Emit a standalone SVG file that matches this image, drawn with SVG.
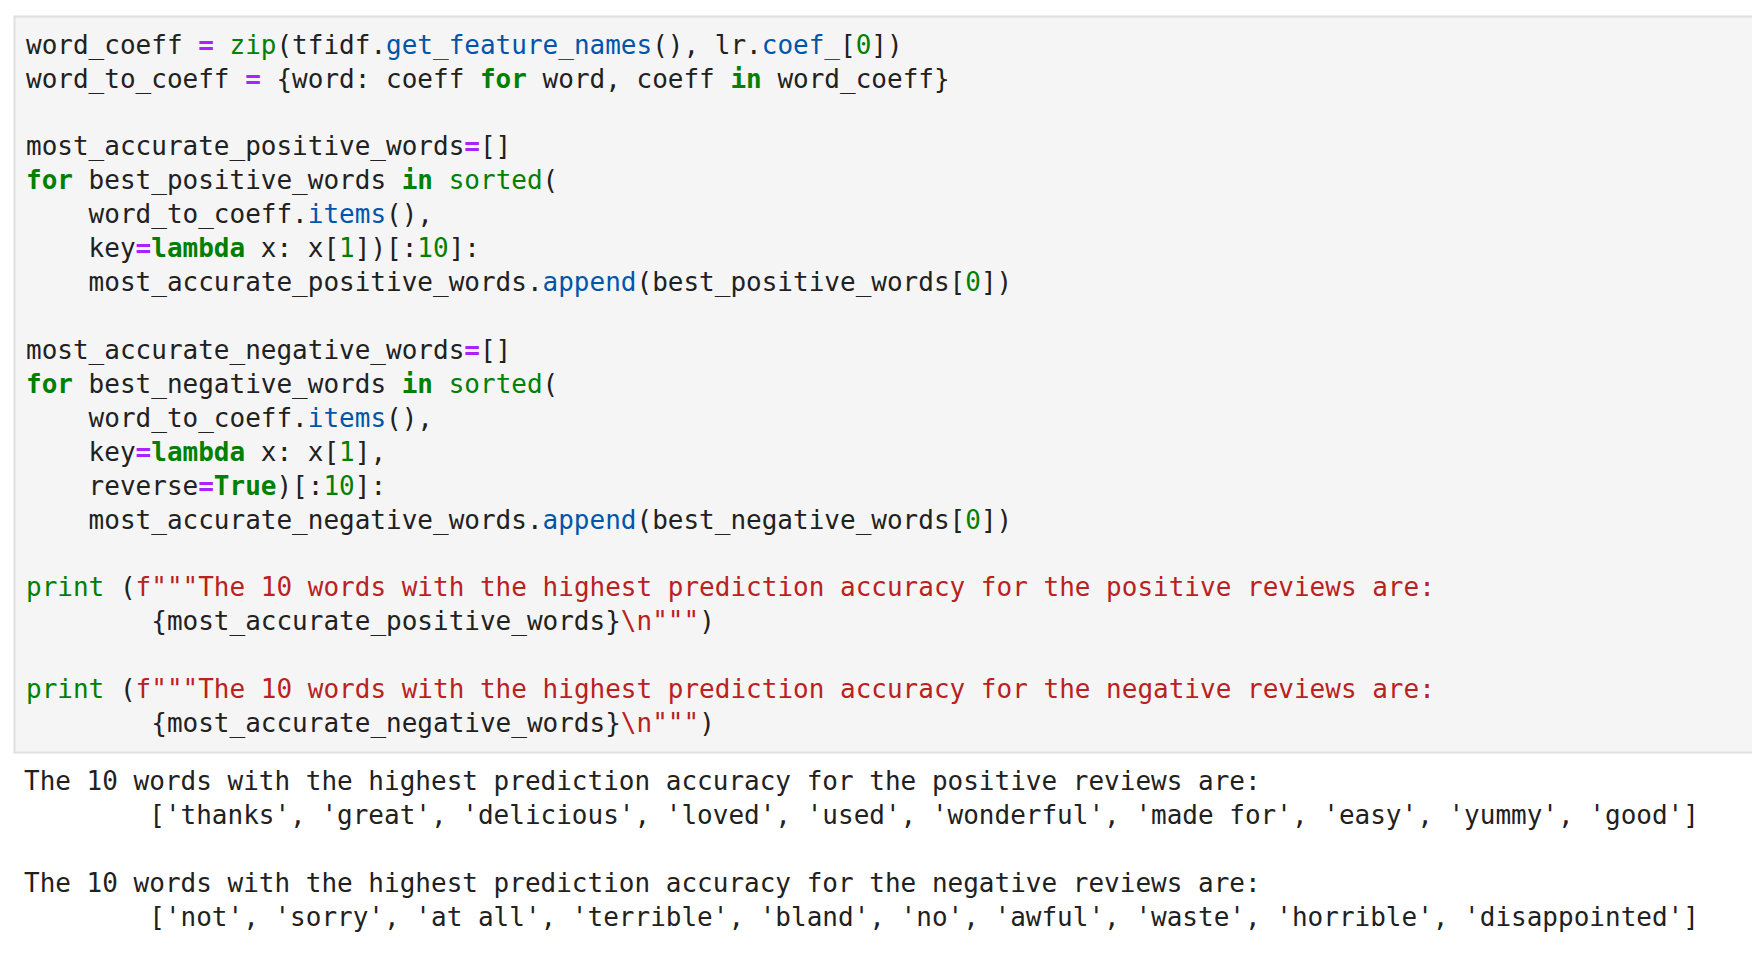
<svg xmlns="http://www.w3.org/2000/svg" width="1752" height="972" viewBox="0 0 1752 972">
<style>
text{font-family:"DejaVu Sans Mono","Liberation Mono",monospace;font-size:26px;fill:#212121;white-space:pre}
.k{fill:#008000;font-weight:bold}.b{fill:#008000}.o{fill:#aa22ff;font-weight:bold}.f{fill:#0055aa}.s{fill:#ba2121}
</style>
<rect width="1752" height="972" fill="#fff"/>
<g id="cell"><rect x="14.5" y="16.5" width="1760" height="736" fill="#f5f5f5" stroke="#e0e0e0" stroke-width="2"/></g>
<g id="code" xml:space="preserve">
<text x="26" y="54">word_coeff <tspan class="o">=</tspan> <tspan class="b">zip</tspan>(tfidf.<tspan class="f">get_feature_names</tspan>(), lr.<tspan class="f">coef_</tspan>[<tspan class="b">0</tspan>])</text>
<text x="26" y="88">word_to_coeff <tspan class="o">=</tspan> {word: coeff <tspan class="k">for</tspan> word, coeff <tspan class="k">in</tspan> word_coeff}</text>
<text x="26" y="155">most_accurate_positive_words<tspan class="o">=</tspan>[]</text>
<text x="26" y="189"><tspan class="k">for</tspan> best_positive_words <tspan class="k">in</tspan> <tspan class="b">sorted</tspan>(</text>
<text x="26" y="223">    word_to_coeff.<tspan class="f">items</tspan>(),</text>
<text x="26" y="257">    key<tspan class="o">=</tspan><tspan class="k">lambda</tspan> x: x[<tspan class="b">1</tspan>])[:<tspan class="b">10</tspan>]:</text>
<text x="26" y="291">    most_accurate_positive_words.<tspan class="f">append</tspan>(best_positive_words[<tspan class="b">0</tspan>])</text>
<text x="26" y="359">most_accurate_negative_words<tspan class="o">=</tspan>[]</text>
<text x="26" y="393"><tspan class="k">for</tspan> best_negative_words <tspan class="k">in</tspan> <tspan class="b">sorted</tspan>(</text>
<text x="26" y="427">    word_to_coeff.<tspan class="f">items</tspan>(),</text>
<text x="26" y="461">    key<tspan class="o">=</tspan><tspan class="k">lambda</tspan> x: x[<tspan class="b">1</tspan>],</text>
<text x="26" y="495">    reverse<tspan class="o">=</tspan><tspan class="k">True</tspan>)[:<tspan class="b">10</tspan>]:</text>
<text x="26" y="529">    most_accurate_negative_words.<tspan class="f">append</tspan>(best_negative_words[<tspan class="b">0</tspan>])</text>
<text x="26" y="596"><tspan class="b">print</tspan> (<tspan class="s">f"""The 10 words with the highest prediction accuracy for the positive reviews are:</tspan></text>
<text x="26" y="630"><tspan class="s">        </tspan>{most_accurate_positive_words}<tspan class="s">\n"""</tspan>)</text>
<text x="26" y="698"><tspan class="b">print</tspan> (<tspan class="s">f"""The 10 words with the highest prediction accuracy for the negative reviews are:</tspan></text>
<text x="26" y="732"><tspan class="s">        </tspan>{most_accurate_negative_words}<tspan class="s">\n"""</tspan>)</text>
</g>
<g id="output" xml:space="preserve">
<text x="24" y="790">The 10 words with the highest prediction accuracy for the positive reviews are:</text>
<text x="24" y="824">        ['thanks', 'great', 'delicious', 'loved', 'used', 'wonderful', 'made for', 'easy', 'yummy', 'good']</text>
<text x="24" y="892">The 10 words with the highest prediction accuracy for the negative reviews are:</text>
<text x="24" y="926">        ['not', 'sorry', 'at all', 'terrible', 'bland', 'no', 'awful', 'waste', 'horrible', 'disappointed']</text>
</g>
</svg>
